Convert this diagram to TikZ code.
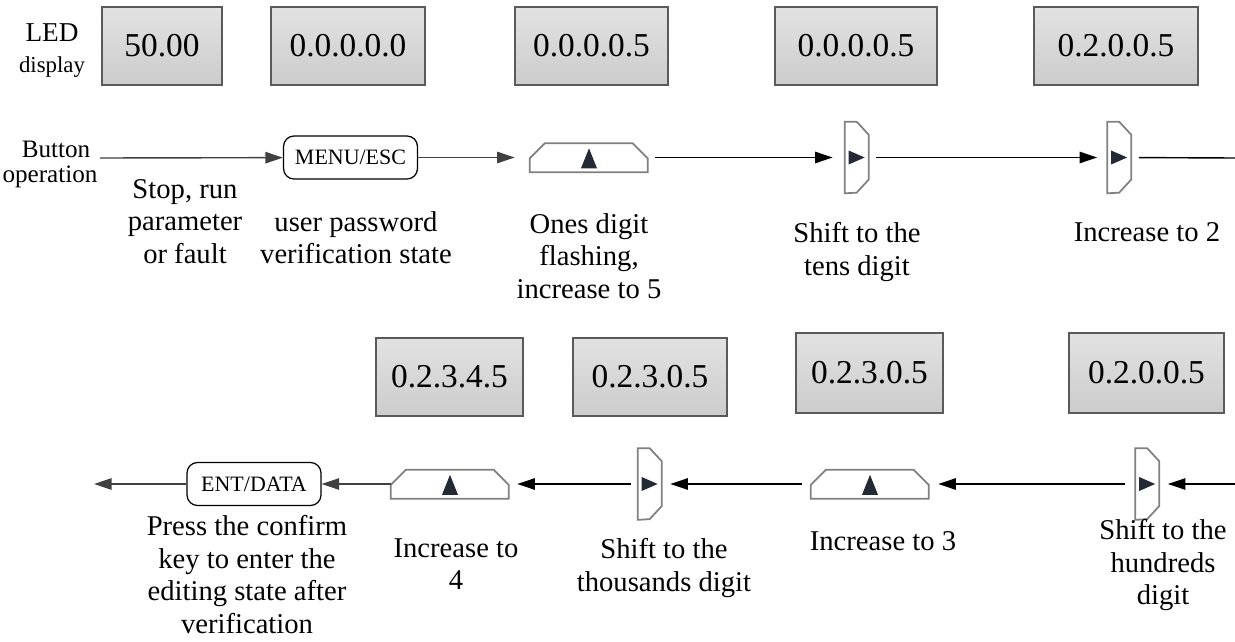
\documentclass[tikz,border=0pt]{standalone}
\usepackage{fontspec}
\setmainfont{Liberation Serif}
\usetikzlibrary{arrows.meta}
\definecolor{keygray}{RGB}{128,128,128}
\definecolor{keydark}{RGB}{35,42,53}
\definecolor{ledtop}{RGB}{226,226,226}
\definecolor{ledbot}{RGB}{204,204,204}
\definecolor{ledline}{RGB}{90,90,90}
\definecolor{arrgray}{RGB}{64,64,64}

\begin{document}
\begin{tikzpicture}[x=0.02cm,y=-0.02cm,>={Triangle[length=10pt,width=6.5pt]},
    led/.style={draw=ledline,line width=0.7pt,top color=ledtop,bottom color=ledbot,minimum height=1.56cm,inner sep=0pt,font=\fontsize{19}{22}\selectfont},
    keycap/.style={draw,rounded corners=6pt,line width=0.7pt,minimum width=2.68cm,minimum height=0.86cm,inner sep=0pt,font=\fontsize{12.5}{15}\selectfont},
    upkey/.style={minimum width=2.36cm,minimum height=0.58cm,inner sep=0pt},
    shiftkey/.style={minimum width=0.48cm,minimum height=1.42cm,inner sep=0pt},
    keyline/.style={draw=keygray,line width=1pt},
    lbl/.style={font=\fontsize{16.3}{18.6}\selectfont,align=center,inner sep=0pt,anchor=north},
    flow/.style={->,line width=0.8pt},
    grayflow/.style={->,draw=arrgray,line width=0.8pt}]
    \useasboundingbox (0,0) rectangle (1235,642);

    \node[anchor=base,font=\fontsize{15.5}{18}\selectfont] (ledlbl) at (52,42) {LED};
    \node[anchor=base,font=\fontsize{13}{15}\selectfont] (displbl) at (52,73) {display};
    \node[anchor=base,font=\fontsize{14.3}{17}\selectfont] (btnlbl) at (56,157) {Button};
    \node[anchor=base,font=\fontsize{14.3}{17}\selectfont] (oplbl) at (50,183) {operation};

    \node[led,minimum width=2.4cm]  (d1) at (162,46)    {50.00};
    \node[led,minimum width=3.08cm] (d2) at (348,46)    {0.0.0.0.0};
    \node[led,minimum width=3.06cm] (d3) at (591.5,46)  {0.0.0.0.5};
    \node[led,minimum width=3.24cm] (d4) at (856,46)    {0.0.0.0.5};
    \node[led,minimum width=3.28cm] (d5) at (1116,46)   {0.2.0.0.5};
    \node[led,minimum width=2.94cm] (d6) at (449.5,377) {0.2.3.4.5};
    \node[led,minimum width=3.08cm] (d7) at (650,377)   {0.2.3.0.5};
    \node[led,minimum width=2.94cm,minimum height=1.6cm] (d8) at (869.5,373) {0.2.3.0.5};
    \node[led,minimum width=3.1cm,minimum height=1.6cm]  (d9) at (1146.5,373) {0.2.0.0.5};

    \node[keycap] (menu) at (350.5,157.5) {MENU/ESC};
    \node[upkey] (u1) at (589,157.5) {};
    \node[shiftkey] (s1) at (857,157.5) {};
    \node[shiftkey] (s2) at (1119.5,157.5) {};

    \node[keycap] (ent) at (254,484) {ENT/DATA};
    \node[upkey] (u2) at (450,484) {};
    \node[shiftkey] (s3) at (650,484) {};
    \node[upkey] (u3) at (870,484) {};
    \node[shiftkey] (s4) at (1147.5,484) {};

    \foreach \k in {u1,u2,u3}{
        \draw[keyline] (\k.south west) -- ++(0,-14) -- ++(15,-15) -- ++(88,0) -- ++(15,15) -- ++(0,14) -- cycle;
        \fill[keydark] (\k.south) ++(-8,-4) -- ++(16,0) -- ++(-8,-20) -- cycle;
    }
    \foreach \k in {s1,s2,s3,s4}{
        \draw[keyline] (\k.south west) -- (\k.north west) -- ++(12,0) -- ++(12,13) -- ++(0,45) -- ++(-12,13) -- cycle;
        \fill[keydark] (\k.west) ++(4,-7) -- ++(0,14) -- ++(16,-7) -- cycle;
    }

    \coordinate (topin) at (100,158);
    \coordinate (topout) at (1235,158);
    \coordinate (botin) at (1235,484);
    \coordinate (botout) at (94,484);

    \draw[grayflow] (topin) -- (menu);
    \draw[grayflow,shorten >=0.3cm] (menu) -- (u1);
    \draw[flow,shorten <=0.14cm,shorten >=0.24cm] (u1) -- (s1);
    \draw[flow,shorten <=0.14cm,shorten >=0.2cm] (s1) -- (s2);
    \draw[line width=0.8pt,shorten <=0.14cm] (s2) -- (topout);

    \draw[flow,shorten >=0.16cm] (botin) -- (s4);
    \draw[flow,shorten <=0.2cm,shorten >=0.18cm] (s4) -- (u3);
    \draw[flow,shorten <=0.18cm,shorten >=0.16cm] (u3) -- (s3);
    \draw[flow,shorten <=0.14cm,shorten >=0.16cm] (s3) -- (u2);
    \draw[grayflow] (u2) -- (ent);
    \draw[grayflow] (ent) -- (botout);

    \node[lbl] (stoplbl) at (185,179) {Stop, run\\parameter\\or fault};
    \node[lbl] (userlbl) at (356,211) {user password\\verification state};
    \node[lbl] (oneslbl) at (589,213) {Ones digit\\flashing,\\increase to 5};
    \node[lbl] (tenslbl) at (857,222) {Shift to the\\tens digit};
    \node[lbl] (inc2lbl) at (1147,222) {Increase to 2};

    \node[lbl] (presslbl) at (247,515) {Press the confirm\\key to enter the\\editing state after\\verification};
    \node[lbl] (inc4lbl) at (456,538) {Increase to\\4};
    \node[lbl] (thoulbl) at (664,538) {Shift to the\\thousands digit};
    \node[lbl] (inc3lbl) at (883,531) {Increase to 3};
    \node[lbl] (hundlbl) at (1163,519) {Shift to the\\hundreds\\digit};
\end{tikzpicture}
\end{document}
